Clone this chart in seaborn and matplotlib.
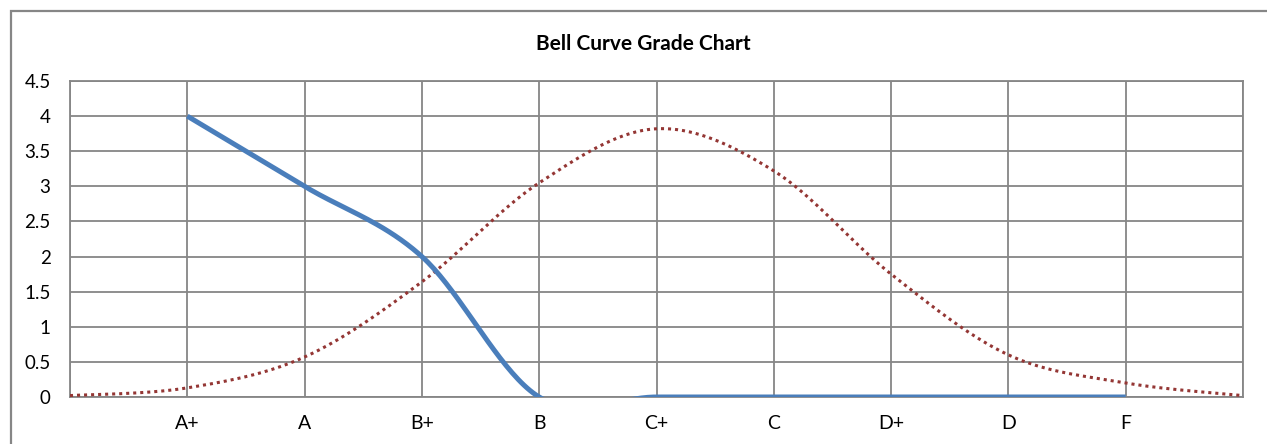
import numpy as np
import pandas as pd
import matplotlib
matplotlib.use("Agg")
import matplotlib.pyplot as plt
import seaborn as sns
from matplotlib.patches import Rectangle

# ---- data ----
categories = ["", "A+", "A", "B+", "B", "C+", "C", "D+", "D", "F", ""]
grades_values = [np.nan, 4, 3, 2, 0, 0, 0, 0, 0, 0, np.nan]
bell_values = [0.02, 0.13, 0.57, 1.64, 3.05, 3.82, 3.22, 1.75, 0.6, 0.2, 0.02]
y_ticks = [0, 0.5, 1, 1.5, 2, 2.5, 3, 3.5, 4, 4.5]
title = "Bell Curve Grade Chart"


def smooth(xs, ys, n=40):
    """Excel-style smoothed line (Catmull-Rom Bezier) through the given points."""
    xs = np.asarray(xs, float)
    ys = np.asarray(ys, float)
    px, py = [], []
    m = len(xs)
    for i in range(m - 1):
        p0 = np.array([xs[max(i - 1, 0)], ys[max(i - 1, 0)]])
        p1 = np.array([xs[i], ys[i]])
        p2 = np.array([xs[i + 1], ys[i + 1]])
        p3 = np.array([xs[min(i + 2, m - 1)], ys[min(i + 2, m - 1)]])
        c1 = p1 + (p2 - p0) / 6.0
        c2 = p2 - (p3 - p1) / 6.0
        t = np.linspace(0, 1, n)[:, None]
        pts = ((1 - t) ** 3) * p1 + 3 * ((1 - t) ** 2) * t * c1 + 3 * (1 - t) * t ** 2 * c2 + t ** 3 * p2
        px.extend(pts[:, 0])
        py.extend(pts[:, 1])
    return np.array(px), np.array(py)


sns.set_theme(style="white")
plt.rcParams["font.family"] = ["Lato", "DejaVu Sans"]

fig = plt.figure(figsize=(12.67, 4.44), dpi=100)
ax = fig.add_axes([70 / 1267, 1 - 397 / 444, (1243 - 70) / 1267, (397 - 81) / 444])

x = np.arange(len(categories))

# bell curve (dotted red)
bx, by = smooth(x, bell_values)
df_bell = pd.DataFrame({"x": bx, "y": by})
sns.lineplot(data=df_bell, x="x", y="y", ax=ax, color="#943634", lw=2.2,
             linestyle=(0, (1, 1.3)), sort=False, estimator=None, zorder=3)

# grades (solid blue), only valid points
gv = np.array(grades_values, float)
mask = ~np.isnan(gv)
gx, gy = smooth(x[mask], gv[mask])
df_g = pd.DataFrame({"x": gx, "y": gy})
sns.lineplot(data=df_g, x="x", y="y", ax=ax, color="#4a7ebb", lw=3.6,
             sort=False, estimator=None, zorder=4, solid_capstyle="butt")

ax.set_xlim(0, len(categories) - 1)
ax.set_ylim(0, 4.5)
ax.set_yticks(y_ticks)
ax.set_yticklabels([f"{v:g}" for v in y_ticks], fontsize=13.5)
ax.set_xticks(x)
ax.set_xticklabels(categories, fontsize=14)
ax.tick_params(axis="x", pad=13, length=0)
ax.tick_params(axis="y", pad=14, length=0)
ax.set_xlabel("")
ax.set_ylabel("")
ax.grid(True, color="#868686", lw=1.3)
ax.set_axisbelow(True)
for s in ax.spines.values():
    s.set_color("#868686")
    s.set_linewidth(1.3)
for lab in ax.get_xticklabels() + ax.get_yticklabels():
    lab.set_color("black")

fig.text(643 / 1267, 1 - 44 / 444, title, ha="center", va="center",
         fontsize=15, fontweight="bold", color="black")

# outer chart border
fig.patches.append(Rectangle((11 / 1267, -0.05), 1.1, 1 - 11 / 444 + 0.05,
                             transform=fig.transFigure, fill=False,
                             edgecolor="#868686", lw=1.6))

fig.savefig("out.png", dpi=100, facecolor="white")
